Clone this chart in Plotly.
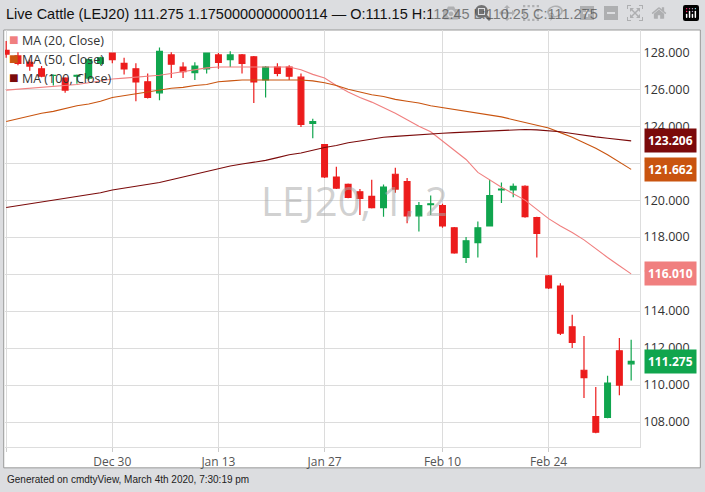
import plotly.graph_objects as go

dates = ["Dec 16","Dec 17","Dec 18","Dec 19","Dec 20","Dec 23","Dec 24","Dec 26","Dec 27","Dec 30",
         "Dec 31","Jan 2","Jan 3","Jan 6","Jan 7","Jan 8","Jan 9","Jan 10","Jan 13","Jan 14",
         "Jan 15","Jan 16","Jan 17","Jan 21","Jan 22","Jan 23","Jan 24","Jan 27","Jan 28","Jan 29",
         "Jan 30","Jan 31","Feb 3","Feb 4","Feb 5","Feb 6","Feb 7","Feb 10","Feb 11","Feb 12",
         "Feb 13","Feb 14","Feb 18","Feb 19","Feb 20","Feb 21","Feb 24","Feb 25","Feb 26","Feb 27",
         "Feb 28","Mar 2","Mar 3","Mar 4"]
opens = [128.1,127.8,127.45,127.1,126.75,126.6,126.7,126.6,127.4,127.95,
         127.4,127.1,126.4,125.8,127.85,127.2,126.9,127.1,127.85,127.6,
         127.85,127.75,126.5,127.2,127.2,126.65,124.15,123.0,121.25,120.85,
         120.45,120.2,119.6,121.4,121.0,119.15,119.75,119.7,118.5,116.9,
         117.7,118.6,120.55,120.55,120.75,119.05,115.9,115.35,113.15,110.8,
         108.3,108.25,111.85,111.15]
highs = [128.6,128.0,127.6,127.25,126.8,126.65,126.8,127.65,127.75,127.95,
         127.7,127.4,126.85,128.25,128.0,127.45,127.45,127.95,127.95,128.05,
         127.9,127.8,127.25,127.4,127.3,126.85,124.4,123.0,121.8,120.9,
         120.6,121.1,120.85,121.75,121.2,119.9,120.25,119.8,118.55,118.0,
         118.85,121.1,120.95,120.9,120.8,119.1,115.95,115.5,113.8,112.65,
         109.9,110.5,112.55,112.45]
lows = [127.7,127.3,127.0,126.65,126.2,125.8,126.3,126.5,127.3,127.4,
        126.8,125.35,125.5,125.4,126.6,126.6,126.5,126.85,127.1,127.2,
        126.85,125.25,125.55,126.7,126.5,123.95,123.35,121.2,120.6,120.1,
        119.2,119.55,119.1,120.4,118.75,118.3,119.2,118.5,117.1,116.6,
        116.9,118.6,119.85,120.15,119.05,116.9,115.2,112.7,112.0,109.3,
        107.4,108.2,109.45,110.25]
closes = [127.9,127.4,127.25,126.7,126.75,125.95,126.75,127.6,127.7,127.6,
          127.1,126.4,125.55,128.05,127.35,126.95,127.25,127.95,127.45,127.85,
          127.4,126.4,127.2,126.85,126.7,124.1,124.25,121.25,120.65,120.15,
          120.1,119.6,120.7,120.6,119.15,119.7,119.8,118.6,117.15,117.8,
          118.5,120.25,120.6,120.75,119.1,118.2,115.25,112.8,112.3,110.4,
          107.45,110.1,110.0,111.275]

ma20 = [125.95,126.0,126.05,126.1,126.15,126.2,126.25,126.35,126.45,126.55,
        126.6,126.65,126.7,126.75,126.85,126.95,127.05,127.15,127.2,127.2,
        127.2,127.2,127.2,127.2,127.2,127.05,126.8,126.6,126.2,125.85,
        125.55,125.3,125.0,124.7,124.35,124.0,123.7,123.2,122.75,122.2,
        121.5,121.1,120.7,120.35,120.0,119.5,119.0,118.6,118.25,117.85,
        117.35,116.9,116.45,116.01]
ma50 = [124.25,124.4,124.55,124.7,124.8,124.95,125.1,125.2,125.35,125.55,
        125.65,125.75,125.85,125.95,126.05,126.1,126.2,126.25,126.4,126.45,
        126.5,126.5,126.5,126.5,126.5,126.5,126.45,126.35,126.2,126.0,
        125.85,125.7,125.6,125.45,125.35,125.25,125.1,125.0,124.9,124.8,
        124.7,124.6,124.5,124.35,124.2,124.05,123.9,123.65,123.4,123.1,
        122.8,122.45,122.05,121.662]
ma100 = [119.6,119.7,119.8,119.9,120.0,120.1,120.2,120.3,120.4,120.55,
         120.65,120.75,120.85,120.95,121.1,121.25,121.4,121.55,121.7,121.85,
         121.95,122.05,122.15,122.3,122.45,122.55,122.7,122.85,122.95,123.1,
         123.2,123.3,123.4,123.45,123.5,123.55,123.6,123.62,123.65,123.68,
         123.7,123.73,123.76,123.8,123.82,123.8,123.75,123.7,123.6,123.5,
         123.42,123.35,123.28,123.206]

tick_vals = [0, 9, 18, 27, 37, 46]
tick_text = ["Dec 16", "Dec 30", "Jan 13", "Jan 27", "Feb 10", "Feb 24"]
y_ticks = [108, 110, 112, 114, 116, 118, 120, 122, 124, 126, 128]

idx = list(range(len(dates)))
C20, C50, C100 = "#f07f7f", "#c9540f", "#7b0a0a"
GREEN, RED = "#10a54e", "#ec1c1c"

fig = go.Figure()
for ma, c in [(ma20, C20), (ma50, C50), (ma100, C100)]:
    fig.add_trace(go.Scatter(x=idx, y=ma, mode="lines", line=dict(color=c, width=1.1),
                             showlegend=False, hoverinfo="skip"))
fig.add_trace(go.Candlestick(x=idx, open=opens, high=highs, low=lows, close=closes,
                             increasing=dict(line=dict(color=GREEN, width=1.2), fillcolor=GREEN),
                             decreasing=dict(line=dict(color=RED, width=1.2), fillcolor=RED),
                             whiskerwidth=0, showlegend=False))

shapes = [
    dict(type="rect", xref="paper", yref="paper", x0=-0.002, x1=1.095, y0=-0.05, y1=1.0,
         fillcolor="white", line=dict(color="#999", width=1), layer="below"),
]
anns = [
    dict(xref="paper", yref="paper", x=-0.0015, y=1.0, yshift=16, xanchor="left", yanchor="middle",
         text="Live Cattle (LEJ20) 111.275 1.1750000000000114 — O:111.15 H:112.45 L:110.25 C:111.275",
         showarrow=False, font=dict(family="Liberation Sans, Arial", size=14.5, color="#111")),
    dict(xref="paper", yref="paper", x=0.0, y=-0.05, yshift=-4, xanchor="left", yanchor="top",
         text="Generated on cmdtyView, March 4th 2020, 7:30:19 pm", showarrow=False,
         font=dict(family="Liberation Sans, Arial", size=10, color="#222")),
    dict(x=29.5, y=120.0, xref="x", yref="y", text="LEJ20, 1, 2", showarrow=False,
         font=dict(family="Open Sans, Liberation Sans", size=40, color="rgba(170,170,170,0.55)")),
]
for i, (lab, c) in enumerate([("MA (20, Close)", C20), ("MA (50, Close)", C50), ("MA (100, Close)", C100)]):
    anns.append(dict(xref="paper", yref="paper", x=0.003, y=0.978 - i * 0.045, xanchor="left",
                     yanchor="middle", showarrow=False,
                     text=f"<span style='color:{c};font-size:16px'>■</span> {lab}",
                     font=dict(family="Open Sans, Liberation Sans", size=12.5, color="#333")))
for val, c in [(123.206, C100), (121.662, C50), (116.010, C20), (111.275, GREEN)]:
    anns.append(dict(xref="paper", yref="y", x=1.006, y=val, xanchor="left", yanchor="middle",
                     text=f"<b>{val:.3f}</b>", showarrow=False, bgcolor=c, borderpad=3,
                     font=dict(family="Open Sans, Liberation Sans", size=12, color="white")))

fig.update_layout(
    width=705, height=492, margin=dict(l=5, r=65, t=30, b=45),
    paper_bgcolor="#dcdde0", plot_bgcolor="white",
    shapes=shapes, annotations=anns, showlegend=False,
    xaxis=dict(range=[-0.1, 53.75], tickvals=tick_vals, ticktext=tick_text, rangeslider=dict(visible=False),
               showgrid=True, gridcolor="#dcdcdc", ticks="outside", ticklen=4, tickcolor="#ccc",
               tickfont=dict(family="Open Sans, Liberation Sans", size=12, color="#555"),
               zeroline=False, showline=True, linecolor="#ddd"),
    yaxis=dict(side="right", range=[106.65, 129.2], tickvals=y_ticks,
               ticktext=[f"{v:.3f}" for v in y_ticks], showgrid=True, gridcolor="#dcdcdc",
               tickfont=dict(family="Open Sans, Liberation Sans", size=12.5, color="#333"),
               zeroline=False, showline=True, linecolor="#ddd", ticks=""),
)
fig.write_html("out.html", post_script="document.body.style.margin='0';document.body.style.padding='0';")
